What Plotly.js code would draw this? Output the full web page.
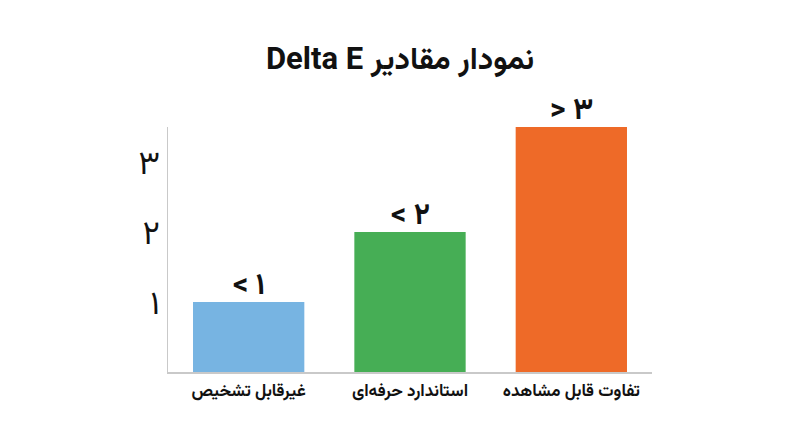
<!DOCTYPE html>
<html>
<head>
<meta charset="utf-8">
<script src="https://cdn.plot.ly/plotly-3.0.1.min.js"></script>
<style>
  html, body { margin: 0; padding: 0; background: #ffffff; }
  #chart { width: 800px; height: 447px; }
</style>
</head>
<body>
<div id="chart"></div>
<script>
// Delta E levels
const categories = ['غیرقابل تشخیص', 'استاندارد حرفه‌ای', 'تفاوت قابل مشاهده'];
const values = [1, 2, 3.5];
const barLabels = ['< ۱', '< ۲', '> ۳'];
const barColors = ['#77b4e2', '#46ae55', '#ee6a28'];
const yTickVals = [1, 2, 3];
const yTickText = ['۱', '۲', '۳'];

const FONT = "Vazirmatn, 'Noto Sans Arabic', Roboto, 'DejaVu Sans', sans-serif";

const trace = {
  type: 'bar',
  x: categories,
  y: values,
  marker: { color: barColors, line: { width: 0 } },
  hoverinfo: 'skip',
};

// value labels sit just above each bar
const labelNotes = categories.map((c, i) => ({
  x: c,
  y: values[i],
  xref: 'x',
  yref: 'y',
  text: barLabels[i],
  showarrow: false,
  yanchor: 'bottom',
  yshift: -10,
  font: { family: FONT, size: 30, color: '#111111', weight: 'bold' },
}));

const layout = {
  width: 800,
  height: 447,
  paper_bgcolor: '#ffffff',
  plot_bgcolor: '#ffffff',
  font: { family: FONT, color: '#111111' },
  margin: { l: 168, r: 148, t: 127, b: 75 },
  bargap: 0.31,
  showlegend: false,
  title: {
    text: '\u202Bنمودار مقادیر Delta E\u202C',
    x: 0.5,
    xanchor: 'center',
    y: 0.87,
    yanchor: 'middle',
    font: { family: FONT, size: 31, color: '#111111', weight: 'bold' },
  },
  annotations: labelNotes,
  xaxis: {
    showgrid: false,
    zeroline: false,
    showline: true,
    linecolor: '#c9c9c9',
    linewidth: 1.5,
    ticks: '',
    ticklabelstandoff: 2,
    tickfont: { family: FONT, size: 17, color: '#111111', weight: 'bold' },
    fixedrange: true,
  },
  yaxis: {
    range: [0, 3.5],
    showgrid: false,
    zeroline: false,
    showline: true,
    linecolor: '#c9c9c9',
    linewidth: 1.5,
    ticks: '',
    tickvals: yTickVals,
    ticktext: yTickText,
    ticklabelstandoff: 0,
    tickfont: { family: FONT, size: 33, color: '#111111' },
    fixedrange: true,
  },
};

Plotly.newPlot('chart', [trace], layout, { displayModeBar: false, staticPlot: true });
</script>
</body>
</html>
